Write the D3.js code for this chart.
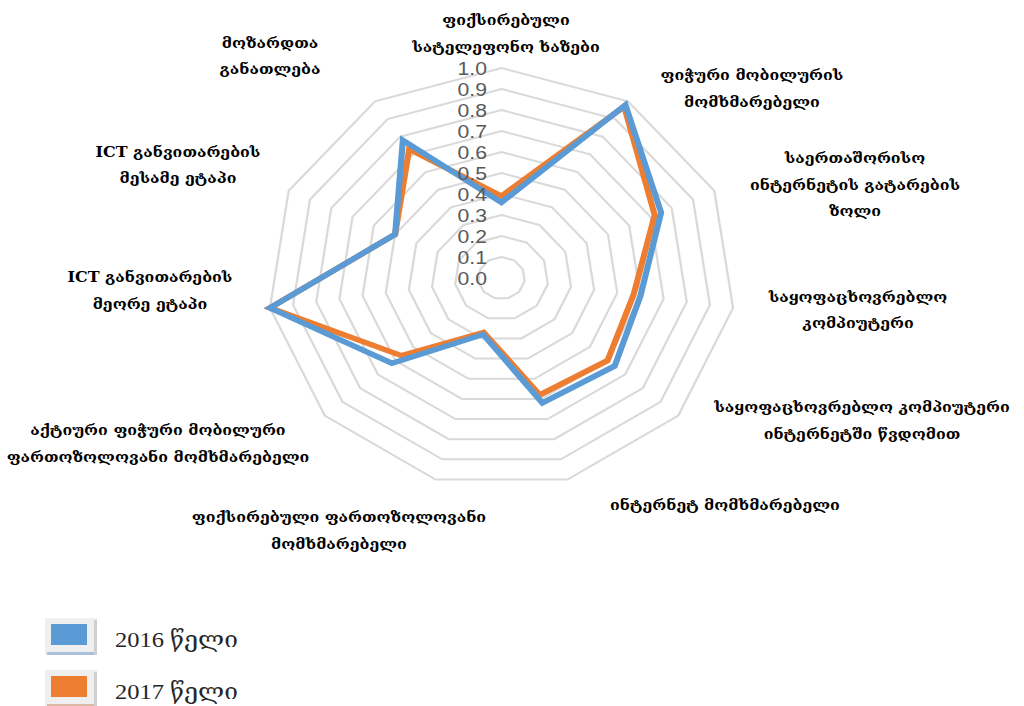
<!DOCTYPE html>
<html><head><meta charset="utf-8">
<script src="https://cdn.jsdelivr.net/npm/d3@7"></script>
<style>body{margin:0;background:#fff;overflow:hidden}</style>
</head><body><svg id="c" width="1024" height="706"></svg>
<script>
// ---- data ----
const categories = [
  ["ფიქსირებული","სატელეფონო ხაზები"],
  ["ფიჭური მობილურის","მომხმარებელი"],
  ["საერთაშორისო","ინტერნეტის გატარების","ზოლი"],
  ["საყოფაცხოვრებლო","კომპიუტერი"],
  ["საყოფაცხოვრებლო კომპიუტერი","ინტერნეტში წვდომით"],
  ["ინტერნეტ მომხმარებელი"],
  ["ფიქსირებული ფართოზოლოვანი","მომხმარებელი"],
  ["აქტიური ფიჭური მობილური","ფართოზოლოვანი მომხმარებელი"],
  ["ICT განვითარების","მეორე ეტაპი"],
  ["ICT განვითარების","მესამე ეტაპი"],
  ["მოზარდთა","განათლება"]
];
const series2016 = [0.36, 0.98, 0.75, 0.60, 0.64, 0.62, 0.28, 0.62, 1.00, 0.50, 0.78];
const series2017 = [0.39, 0.97, 0.72, 0.57, 0.60, 0.58, 0.27, 0.565, 1.00, 0.50, 0.73];
const seriesNames = ["2016 წელი", "2017 წელი"];
const tickLabels = ["0.0","0.1","0.2","0.3","0.4","0.5","0.6","0.7","0.8","0.9","1.0"];

// ---- layout ----
const SX = 1.114;
const cx = 501.5 / SX, cy = 278, R = 210;
const labelAnchors = [[506,20],[752,75],[855,158],[858,297],[862,407],[725,505],[339,517],[158,430],[150,277],[178,152],[270,43]];
const lineGap = 26.5;
const colors = ["#5b9bd5", "#ed7d31"];

const svg = d3.select("#c");
const g = svg.append("g").attr("transform", `scale(${SX},1)`);
const n = categories.length;
const r = d3.scaleLinear().domain([0, 1]).range([0, R]);
const ang = d3.scaleLinear().domain([0, n]).range([0, 2 * Math.PI]);
const ticks = tickLabels.map(Number);

const chart = g.append("g").attr("transform", `translate(${cx},${cy})`);
const ring = d3.lineRadial().angle((d, i) => ang(i)).radius(d => r(d)).curve(d3.curveLinearClosed);

chart.selectAll("path.grid").data(ticks.filter(t => t > 0)).join("path")
  .attr("class", "grid")
  .attr("d", t => ring(d3.range(n).map(() => t)))
  .attr("fill", "none").attr("stroke", "#d9d9d9").attr("stroke-width", 2);

[[series2017, colors[1]], [series2016, colors[0]]].forEach(([vals, col]) => {
  chart.append("path").attr("d", ring(vals))
    .attr("fill", "none").attr("stroke", col).attr("stroke-width", 5.5)
    .attr("stroke-linejoin", "miter");
});

chart.selectAll("text.tick").data(tickLabels).join("text")
  .attr("class", "tick")
  .attr("x", (487 - 501.5) / SX)
  .attr("y", d => -r(+d))
  .attr("dy", "0.35em")
  .attr("text-anchor", "end")
  .attr("font-family", "Liberation Sans, Arial, sans-serif")
  .attr("font-size", 19)
  .attr("fill", "#595959")
  .text(d => d);

categories.forEach((lines, i) => {
  const [ax, ay] = labelAnchors[i];
  const t = g.append("text")
    .attr("text-anchor", "middle")
    .attr("font-family", "DejaVu Serif, DejaVu Sans, serif")
    .attr("font-weight", "bold")
    .attr("font-size", 14.3)
    .attr("fill", "#000");
  lines.forEach((s, j) => {
    t.append("tspan").attr("x", ax / SX).attr("y", ay + j * lineGap).attr("dy", "0.35em").text(s);
  });
});

const leg = g.append("g");
seriesNames.forEach((name, i) => {
  const y0 = 618 + i * 52;
  leg.append("rect").attr("x", 45 / SX).attr("y", y0).attr("width", 52 / SX).attr("height", 37)
    .attr("fill", "#efefef");
  leg.append("rect").attr("x", 47 / SX).attr("y", y0 + 34).attr("width", 50 / SX).attr("height", 3)
    .attr("fill", i === 0 ? "#a9c0dc" : "#dcb9a3");
  leg.append("rect").attr("x", 94 / SX).attr("y", y0 + 2).attr("width", 3 / SX).attr("height", 35)
    .attr("fill", "#d0d0d0");
  leg.append("rect").attr("x", 51 / SX).attr("y", y0 + 6).attr("width", 36 / SX).attr("height", 21)
    .attr("fill", colors[i]);
  leg.append("text").attr("x", 115 / SX).attr("y", y0 + 29)
    .attr("font-family", "Liberation Serif, DejaVu Serif, serif")
    .attr("font-size", 22).attr("fill", "#262626").text(name);
});
</script></body></html>
